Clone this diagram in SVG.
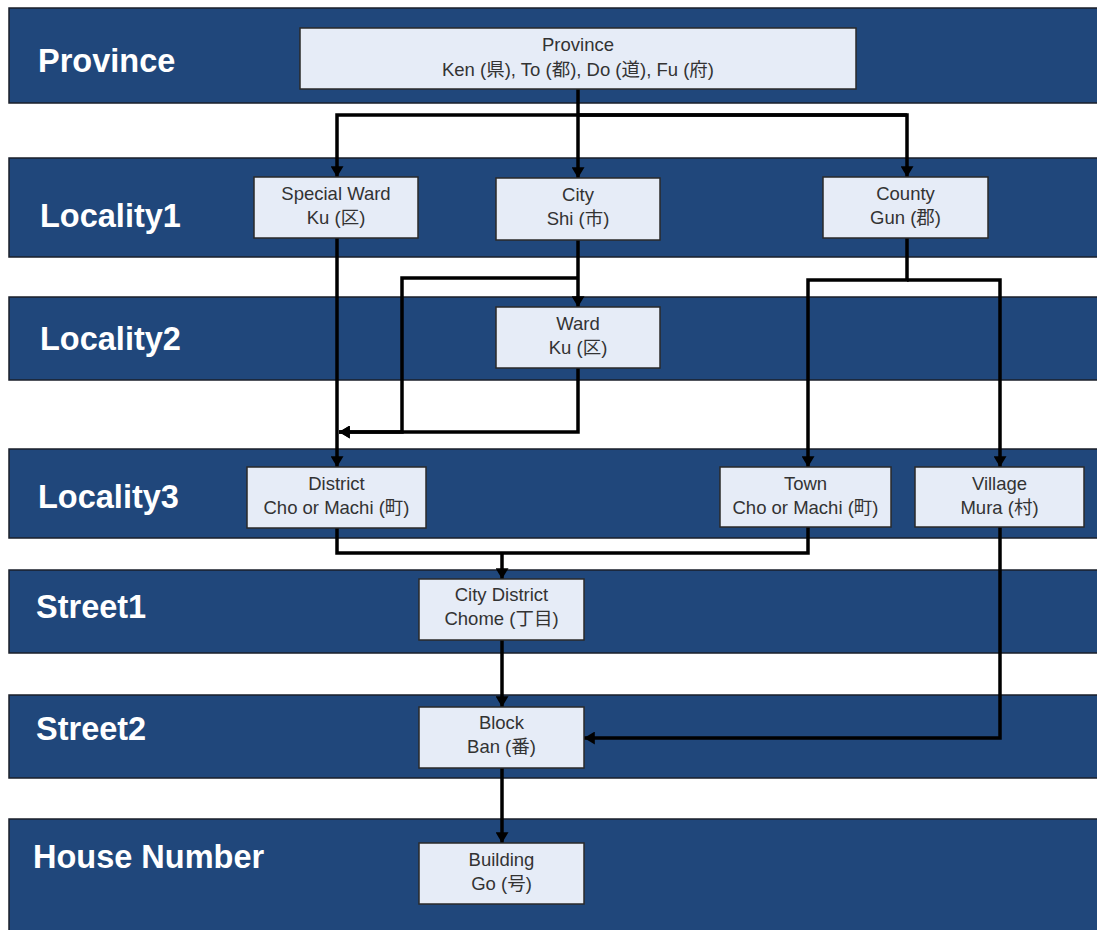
<svg xmlns="http://www.w3.org/2000/svg" width="1097" height="930" viewBox="0 0 1097 930">
<style>
.band{fill:#20477B;stroke:#1a1f2a;stroke-width:1.5}
.blabel{font-family:"Liberation Sans",Arial,sans-serif;font-weight:bold;font-size:32.5px;fill:#ffffff}
.node{fill:#E6ECF7;stroke:#2a2a2a;stroke-width:1.5}
.ntext{font-family:"Liberation Sans","Noto Sans CJK JP",sans-serif;font-size:18.5px;fill:#333333;text-anchor:middle}
.conn{fill:none;stroke:#000000;stroke-width:3.5;stroke-linejoin:miter}
</style>
<defs>
<marker id="arr" viewBox="0 0 10 12" markerWidth="11" markerHeight="13" refX="10" refY="6" orient="auto" markerUnits="userSpaceOnUse">
<path d="M0,0 L10,6 L0,12 z" fill="#000"/>
</marker>
</defs>
<rect width="1097" height="930" fill="#ffffff"/>
<g id="bands">
<rect class="band" x="9" y="8" width="1100" height="95"/>
<rect class="band" x="9" y="158" width="1100" height="99"/>
<rect class="band" x="9" y="297" width="1100" height="83"/>
<rect class="band" x="9" y="449" width="1100" height="89"/>
<rect class="band" x="9" y="570" width="1100" height="83"/>
<rect class="band" x="9" y="695" width="1100" height="83"/>
<rect class="band" x="9" y="819" width="1100" height="120"/>
<text class="blabel" x="38" y="72">Province</text>
<text class="blabel" x="40" y="227">Locality1</text>
<text class="blabel" x="40" y="350">Locality2</text>
<text class="blabel" x="38" y="508">Locality3</text>
<text class="blabel" x="36" y="618">Street1</text>
<text class="blabel" x="36" y="740">Street2</text>
<text class="blabel" x="33" y="868">House Number</text>
</g>
<g id="connectors">
<path class="conn" d="M578,89 V178" marker-end="url(#arr)"/>
<path class="conn" d="M907,115 H337 V177" marker-end="url(#arr)"/>
<path class="conn" d="M578,115 H907 V177" marker-end="url(#arr)"/>
<path class="conn" d="M337,238 V467" marker-end="url(#arr)"/>
<path class="conn" d="M578,240 V307" marker-end="url(#arr)"/>
<path class="conn" d="M578,278 H402 V432 H339" marker-end="url(#arr)"/>
<path class="conn" d="M578,368 V432 H339" marker-end="url(#arr)"/>
<path class="conn" d="M907,238 V280 H808 V467" marker-end="url(#arr)"/>
<path class="conn" d="M907,280 H1000 V467" marker-end="url(#arr)"/>
<path class="conn" d="M337,528 V553 H808 V527"/>
<path class="conn" d="M502,553 V579" marker-end="url(#arr)"/>
<path class="conn" d="M502,640 V707" marker-end="url(#arr)"/>
<path class="conn" d="M1000,527 V738 H584" marker-end="url(#arr)"/>
<path class="conn" d="M502,768 V843" marker-end="url(#arr)"/>
</g>
<g id="n-province"><rect class="node" x="300" y="28" width="556" height="61"/><text class="ntext" x="578" y="51">Province</text><text class="ntext" x="578" y="76">Ken (県), To (都), Do (道), Fu (府)</text></g>
<g id="n-specialward"><rect class="node" x="254" y="177" width="164" height="61"/><text class="ntext" x="336" y="200">Special Ward</text><text class="ntext" x="336" y="224">Ku (区)</text></g>
<g id="n-city"><rect class="node" x="496" y="178" width="164" height="62"/><text class="ntext" x="578" y="201">City</text><text class="ntext" x="578" y="225">Shi (市)</text></g>
<g id="n-county"><rect class="node" x="823" y="177" width="165" height="61"/><text class="ntext" x="905.5" y="200">County</text><text class="ntext" x="905.5" y="224">Gun (郡)</text></g>
<g id="n-ward"><rect class="node" x="496" y="307" width="164" height="61"/><text class="ntext" x="578" y="330">Ward</text><text class="ntext" x="578" y="354">Ku (区)</text></g>
<g id="n-district"><rect class="node" x="247" y="467" width="179" height="61"/><text class="ntext" x="336.5" y="490">District</text><text class="ntext" x="336.5" y="514">Cho or Machi (町)</text></g>
<g id="n-town"><rect class="node" x="720" y="467" width="171" height="60"/><text class="ntext" x="805.5" y="490">Town</text><text class="ntext" x="805.5" y="514">Cho or Machi (町)</text></g>
<g id="n-village"><rect class="node" x="915" y="467" width="169" height="60"/><text class="ntext" x="999.5" y="490">Village</text><text class="ntext" x="999.5" y="514">Mura (村)</text></g>
<g id="n-citydistrict"><rect class="node" x="419" y="579" width="165" height="61"/><text class="ntext" x="501.5" y="601">City District</text><text class="ntext" x="501.5" y="625">Chome (丁目)</text></g>
<g id="n-block"><rect class="node" x="419" y="707" width="165" height="61"/><text class="ntext" x="501.5" y="729">Block</text><text class="ntext" x="501.5" y="753">Ban (番)</text></g>
<g id="n-building"><rect class="node" x="419" y="843" width="165" height="61"/><text class="ntext" x="501.5" y="866">Building</text><text class="ntext" x="501.5" y="890">Go (号)</text></g>
</svg>
